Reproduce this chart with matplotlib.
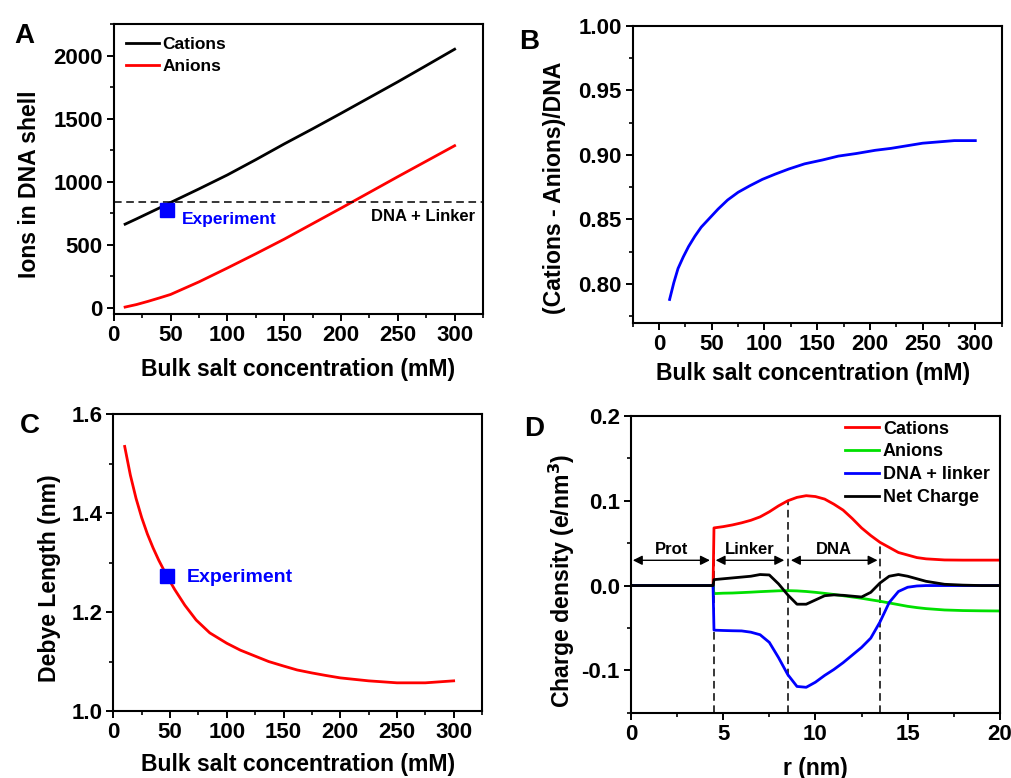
import matplotlib
matplotlib.use("Agg")
import matplotlib.pyplot as plt
from matplotlib.ticker import MultipleLocator

plt.rcParams['font.family'] = ['Liberation Sans', 'DejaVu Sans']
plt.rcParams['font.weight'] = 'bold'

# ---------------- data ----------------
# Panel A
conc_a = [10, 20, 30, 40, 50, 75, 100, 125, 150, 175, 200, 225, 250, 275, 300]
cations_a = [663, 705, 748, 791, 835, 943, 1054, 1175, 1300, 1420, 1543, 1668, 1793, 1922, 2052]
anions_a = [5, 25, 50, 77, 105, 205, 315, 428, 544, 667, 790, 915, 1040, 1163, 1286]
dna_linker_level = 837
exp_a = (47, 776)

# Panel B
conc_b = [10, 14, 18, 23, 28, 34, 40, 48, 56, 65, 75, 86, 98, 110, 123, 138, 155,
          170, 187, 205, 220, 235, 250, 265, 280, 300]
ratio_b = [0.788, 0.801, 0.812, 0.821, 0.829, 0.837, 0.844, 0.851, 0.858, 0.865,
           0.871, 0.876, 0.881, 0.885, 0.889, 0.893, 0.896, 0.899, 0.901, 0.9035,
           0.905, 0.907, 0.909, 0.910, 0.911, 0.911]

# Panel C
conc_c = [10, 15, 20, 25, 30, 35, 40, 47, 54, 63, 73, 85, 100, 112, 125, 137, 150,
          162, 175, 187, 200, 225, 250, 275, 300]
debye_c = [1.535, 1.477, 1.430, 1.391, 1.358, 1.330, 1.305, 1.274, 1.246, 1.214,
           1.184, 1.158, 1.137, 1.123, 1.111, 1.100, 1.091, 1.083, 1.077, 1.072,
           1.067, 1.061, 1.057, 1.057, 1.061]
exp_c = (47, 1.274)

# Panel D
r_d = [0, 4.45, 4.5, 5, 5.5, 6, 6.5, 7, 7.5, 8, 8.5, 9, 9.5, 10, 10.5, 11, 11.5, 12,
       12.5, 13, 13.5, 14, 14.5, 15, 15.5, 16, 17, 18, 19, 20]
cations_d = [0, 0, 0.068, 0.0695, 0.0715, 0.074, 0.077, 0.081, 0.087, 0.094, 0.100,
             0.104, 0.106, 0.105, 0.102, 0.096, 0.089, 0.079, 0.068, 0.059, 0.051,
             0.045, 0.039, 0.036, 0.033, 0.0315, 0.0302, 0.030, 0.030, 0.030]
anions_d = [0, 0, -0.0095, -0.009, -0.0088, -0.0083, -0.0078, -0.0072, -0.0067, -0.0062,
            -0.006, -0.0063, -0.007, -0.008, -0.0092, -0.0105, -0.012, -0.0135, -0.015,
            -0.0168, -0.0185, -0.0205, -0.0225, -0.0245, -0.026, -0.0272, -0.0288,
            -0.0295, -0.0298, -0.030]
dna_d = [0, 0, -0.0526, -0.053, -0.0533, -0.0535, -0.055, -0.058, -0.067, -0.085, -0.105,
         -0.119, -0.120, -0.114, -0.106, -0.099, -0.091, -0.082, -0.073, -0.062, -0.043,
         -0.020, -0.007, -0.002, -0.0005, 0, 0, 0, 0, 0]
net_d = [0, 0, 0.007, 0.008, 0.009, 0.010, 0.011, 0.013, 0.0125, 0.002, -0.011, -0.022,
         -0.022, -0.017, -0.012, -0.011, -0.0115, -0.0125, -0.0135, -0.008, 0.003, 0.011,
         0.013, 0.011, 0.008, 0.005, 0.0015, 0.0005, 0, 0]
region_bounds = [4.5, 8.5, 13.5]
region_tops = [0.068, 0.100, 0.051]
region_labels = ["Prot", "Linker", "DNA"]
arrow_spans = [(0.1, 4.28), (4.59, 8.31), (8.67, 13.37)]

# ---------------- figure ----------------
fig = plt.figure(figsize=(10.12, 7.78), dpi=100)
axA = fig.add_axes([0.1124, 0.5964, 0.3649, 0.3724])
axB = fig.add_axes([0.6252, 0.5852, 0.3646, 0.3818])
axC = fig.add_axes([0.1120, 0.0861, 0.3643, 0.3814])
axD = fig.add_axes([0.6235, 0.0839, 0.3645, 0.3814])

TICK = 16
LAB = 16.6
LW = 2.0


def style(ax):
    for s in ax.spines.values():
        s.set_linewidth(1.5)
    ax.tick_params(which='major', direction='out', length=5, width=1.4,
                   labelsize=TICK, pad=3, top=False, right=False)
    ax.tick_params(which='minor', direction='out', length=3, width=1.2,
                   top=False, right=False)
    for lab in ax.get_xticklabels() + ax.get_yticklabels():
        lab.set_fontweight('bold')


# Panel A
axA.plot(conc_a, cations_a, color='black', lw=LW, label='Cations')
axA.plot(conc_a, anions_a, color='red', lw=LW, label='Anions')
axA.axhline(dna_linker_level, color='black', lw=1.1, ls=(0, (5, 3)))
axA.plot([exp_a[0]], [exp_a[1]], 's', color='blue', ms=10)
axA.text(60, 700, 'Experiment', color='blue', fontsize=12.5, fontweight='bold', va='center')
axA.text(318, 722, 'DNA + Linker', color='black', fontsize=12, fontweight='bold',
         va='center', ha='right')
axA.set_xlim(0, 325)
axA.set_ylim(-50, 2250)
axA.xaxis.set_major_locator(MultipleLocator(50))
axA.xaxis.set_minor_locator(MultipleLocator(25))
axA.yaxis.set_major_locator(MultipleLocator(500))
axA.yaxis.set_minor_locator(MultipleLocator(250))
axA.set_xlabel('Bulk salt concentration (mM)', fontsize=LAB, fontweight='bold')
axA.set_ylabel('Ions in DNA shell', fontsize=LAB, fontweight='bold')
axA.legend(loc='upper left', frameon=False, handlelength=1.9,
           handletextpad=0.2, borderaxespad=0.3, labelspacing=0.4,
           prop={'weight': 'bold', 'size': 12.5})
style(axA)
axA.xaxis.set_label_coords(0.5, -0.193)
axA.xaxis.label.set_va('center')
axA.yaxis.set_label_coords(-0.227, 0.447)
axA.yaxis.label.set_va('center')

# Panel B
axB.plot(conc_b, ratio_b, color='blue', lw=LW)
axB.set_xlim(-25, 325)
axB.set_ylim(0.77, 1.00)
axB.xaxis.set_major_locator(MultipleLocator(50))
axB.xaxis.set_minor_locator(MultipleLocator(25))
axB.yaxis.set_major_locator(MultipleLocator(0.05))
axB.yaxis.set_minor_locator(MultipleLocator(0.025))
axB.yaxis.set_major_formatter(plt.FuncFormatter(lambda v, p: f"{v:.2f}"))
axB.set_xlabel('Bulk salt concentration (mM)', fontsize=LAB, fontweight='bold')
axB.set_ylabel('(Cations - Anions)/DNA', fontsize=LAB, fontweight='bold')
style(axB)
axB.xaxis.set_label_coords(0.49, -0.170)
axB.xaxis.label.set_va('center')
axB.yaxis.set_label_coords(-0.211, 0.453)
axB.yaxis.label.set_va('center')

# Panel C
axC.plot(conc_c, debye_c, color='red', lw=LW)
axC.plot([exp_c[0]], [exp_c[1]], 's', color='blue', ms=10)
axC.text(65, 1.27, 'Experiment', color='blue', fontsize=14, fontweight='bold', va='center')
axC.set_xlim(0, 325)
axC.set_ylim(1.0, 1.6)
axC.xaxis.set_major_locator(MultipleLocator(50))
axC.xaxis.set_minor_locator(MultipleLocator(25))
axC.yaxis.set_major_locator(MultipleLocator(0.2))
axC.yaxis.set_minor_locator(MultipleLocator(0.1))
axC.yaxis.set_major_formatter(plt.FuncFormatter(lambda v, p: f"{v:.1f}"))
axC.set_xlabel('Bulk salt concentration (mM)', fontsize=LAB, fontweight='bold')
axC.set_ylabel('Debye Length (nm)', fontsize=LAB, fontweight='bold')
style(axC)
axC.xaxis.set_label_coords(0.5, -0.179)
axC.xaxis.label.set_va('center')
axC.yaxis.set_label_coords(-0.172, 0.449)
axC.yaxis.label.set_va('center')

# Panel D
for xb, yt in zip(region_bounds, region_tops):
    axD.plot([xb, xb], [-0.15, yt], color='black', lw=1.1, ls=(0, (5, 3)))
axD.plot(r_d, cations_d, color='red', lw=LW, label='Cations')
axD.plot(r_d, anions_d, color='#00e000', lw=LW, label='Anions')
axD.plot(r_d, dna_d, color='blue', lw=LW, label='DNA + linker')
axD.plot(r_d, net_d, color='black', lw=LW, label='Net Charge')
for (x0, x1), lab in zip(arrow_spans, region_labels):
    axD.annotate('', xy=(x1, 0.0298), xytext=(x0, 0.0298),
                 arrowprops=dict(arrowstyle='<|-|>', color='black', lw=1.0,
                                 mutation_scale=14, shrinkA=0, shrinkB=0))
    axD.text((x0 + x1) / 2, 0.042, lab, ha='center', va='center',
             fontsize=12, fontweight='bold')
axD.set_xlim(0, 20)
axD.set_ylim(-0.15, 0.2)
axD.xaxis.set_major_locator(MultipleLocator(5))
axD.xaxis.set_minor_locator(MultipleLocator(2.5))
axD.yaxis.set_major_locator(MultipleLocator(0.1))
axD.yaxis.set_minor_locator(MultipleLocator(0.05))
axD.yaxis.set_major_formatter(plt.FuncFormatter(lambda v, p: f"{v:.1f}" if abs(v) > 1e-9 else "0.0"))
axD.set_xlabel('r (nm)', fontsize=LAB, fontweight='bold')
axD.set_ylabel('Charge density (e/nm$^\\mathbf{3}$)', fontsize=LAB, fontweight='bold')
axD.legend(loc='upper right', frameon=False, handlelength=1.9,
           handletextpad=0.2, borderaxespad=0.15, borderpad=0.1, labelspacing=0.33,
           bbox_to_anchor=(0.985, 1.0),
           prop={'weight': 'bold', 'size': 13})
style(axD)
axD.xaxis.set_label_coords(0.5, -0.187)
axD.xaxis.label.set_va('center')
axD.yaxis.set_label_coords(-0.187, 0.446)
axD.yaxis.label.set_va('center')

# Panel letters
for lab, (px, py) in zip("ABCD", [(24, 36), (529, 42), (30, 426), (534, 429)]):
    fig.text(px / 1012, 1 - py / 778, lab, fontsize=20, fontweight='bold',
             ha='center', va='center')

fig.savefig('out.png', dpi=100)
